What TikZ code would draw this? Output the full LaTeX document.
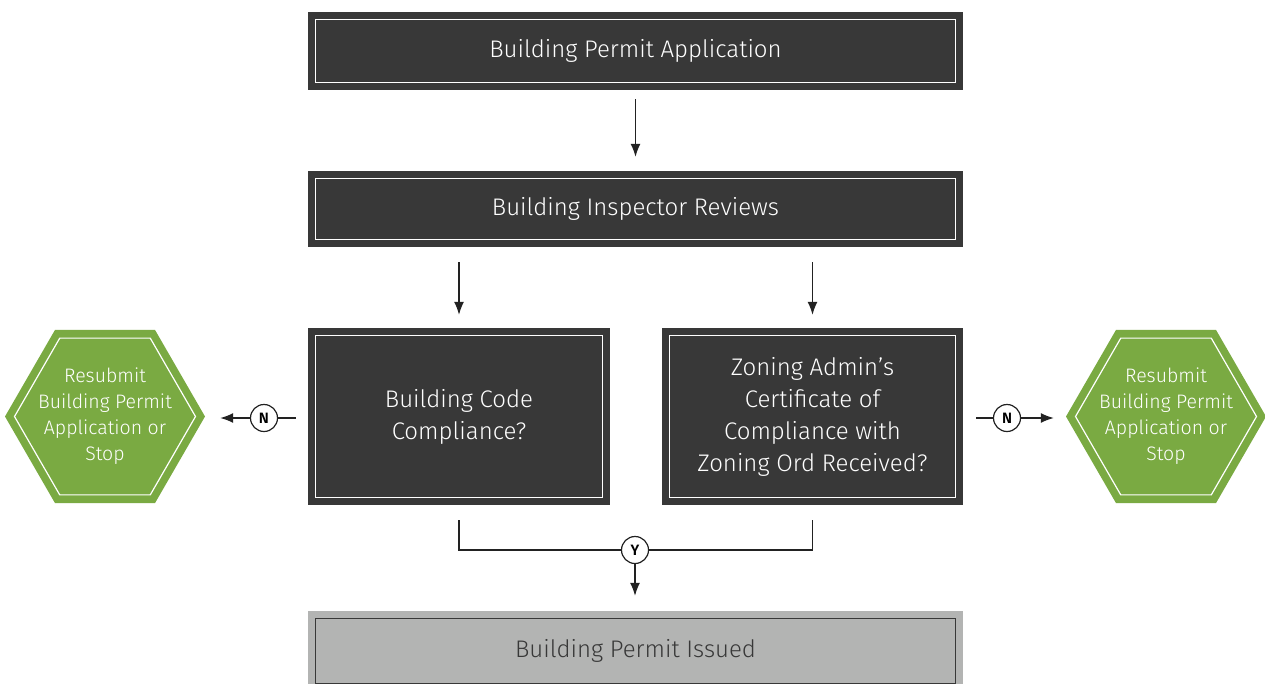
\documentclass[tikz,border=0pt]{standalone}
\usepackage{fontspec}
\setmainfont{Fira Sans}[UprightFont=* Light, BoldFont=* SemiBold]
\usetikzlibrary{shapes.geometric,arrows.meta}
\definecolor{darkbox}{HTML}{383838}
\definecolor{greenhex}{HTML}{7AAA42}
\definecolor{graybox}{HTML}{B3B4B3}
\definecolor{linec}{HTML}{222222}
\tikzset{
  dbox/.style={fill=darkbox, draw=none, text=white, align=center, inner sep=0pt,
    font=\fontsize{24}{32}\selectfont},
  gbox/.style={fill=graybox, draw=none, text=darkbox, align=center, inner sep=0pt,
    font=\fontsize{24}{32}\selectfont},
  hexo/.style={regular polygon, regular polygon sides=6, minimum size=200pt, fill=greenhex, draw=none, inner sep=0pt},
  hexi/.style={regular polygon, regular polygon sides=6, minimum size=181pt, draw=white, line width=1.2pt, inner sep=0pt},
  hext/.style={text=white, align=center, inner sep=0pt, font=\fontsize{19.5}{26}\selectfont},
  conn/.style={draw=linec, line width=1.2pt},
  arr/.style={conn, -{Latex[length=13pt,width=10pt]}},
  lbl/.style={circle, draw=linec, line width=1.2pt, fill=white, minimum size=27pt, inner sep=0pt, font=\fontsize{15}{15}\bfseries\selectfont}
}
\begin{document}
\begin{tikzpicture}[x=1pt,y=-1pt]
\useasboundingbox (0,0) rectangle (1265,683);
\begin{scope}
\clip (0,0) rectangle (1265,683);
% boxes
\node[dbox, minimum width=655pt, minimum height=78pt] (a) at (635.5,51) {Building Permit Application};
\node[dbox, minimum width=655pt, minimum height=76pt] (b) at (635.5,209) {Building Inspector Reviews};
\node[dbox, minimum width=302pt, minimum height=177pt] (c) at (459,416.5) {Building Code\\Compliance?};
\node[dbox, minimum width=301pt, minimum height=177pt] (d) at (812.5,416.5) {Zoning Admin’s\\Certificate of\\Compliance with\\Zoning Ord Received?};
\node[gbox, minimum width=655pt, minimum height=80pt] (f) at (635.5,651) {Building Permit Issued};
\foreach \n in {a,b,c,d}{
  \draw[white, line width=1.2pt] ([shift={(8,8)}]\n.north west) rectangle ([shift={(-8,-8)}]\n.south east);
}
\draw[darkbox, line width=1.2pt] ([shift={(8,8)}]f.north west) rectangle ([shift={(-8,-8)}]f.south east);
% hexagons
\node[hexo] (hl) at (105,416.5) {};
\node[hexi] (hli) at (hl) {};
\node[hext] (hlt) at (hl) {Resubmit\\Building Permit\\Application or\\Stop};
\node[hexo] (hr) at (1166,416.5) {};
\node[hexi] (hri) at (hr) {};
\node[hext] (hrt) at (hr) {Resubmit\\Building Permit\\Application or\\Stop};
% labels
\node[lbl] (nl) at (264,418) {N};
\node[lbl] (nr) at (1007,418) {N};
\node[lbl] (y) at (635,550) {Y};
% connectors
\draw[arr, shorten <=9pt, shorten >=14pt] (a.south) -- (b.north);
\draw[arr, shorten <=15pt, shorten >=13pt] (b.south -| c.north) -- (c.north);
\draw[arr, shorten <=15pt, shorten >=13pt] (b.south -| d.north) -- (d.north);
\draw[conn, shorten <=15pt] (c.south) |- (y.west);
\draw[conn, shorten <=15pt] (d.south) |- (y.east);
\draw[arr, shorten >=15pt] (y.south) -- (f.north -| y.south);
\draw[conn, shorten <=12pt] (c.west |- nl) -- (nl.east);
\draw[arr, shorten >=15pt] (nl.west) -- (hl.east |- nl);
\draw[conn, shorten <=13pt] (d.east |- nr) -- (nr.west);
\draw[arr, shorten >=12pt] (nr.east) -- (hr.west |- nr);
\end{scope}
\end{tikzpicture}
\end{document}
